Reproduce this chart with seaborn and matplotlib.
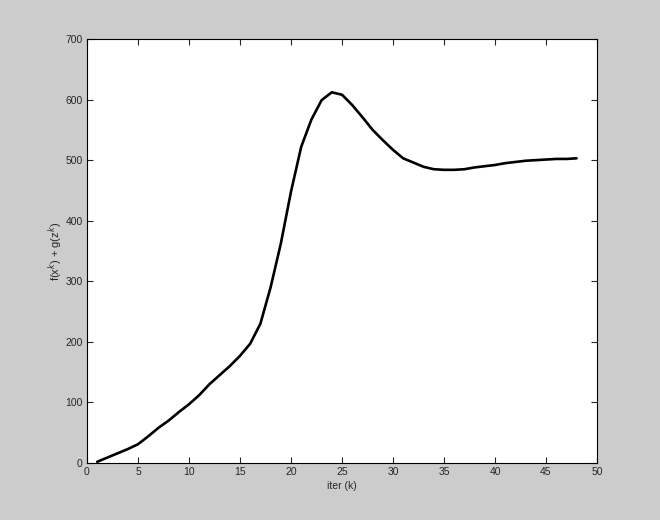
import numpy as np
import pandas as pd
import matplotlib
matplotlib.use("Agg")
import matplotlib.pyplot as plt
import seaborn as sns

# valores
iteracoes = list(range(1, 49))
valores = [2, 9, 16, 23, 31, 44, 58, 70, 84, 97,
           112, 130, 145, 160, 177, 197, 230, 290, 362, 448,
           522, 567, 599, 612, 608, 591, 571, 550, 533, 517,
           503, 496, 489, 485, 484, 484, 485, 488, 490, 492,
           495, 497, 499, 500, 501, 502, 502, 503]

df = pd.DataFrame({"k": iteracoes, "f": valores})

sns.set_style("ticks")
plt.rcParams["font.family"] = ["Liberation Sans", "DejaVu Sans"]

fig = plt.figure(figsize=(6.6, 5.2), dpi=100, facecolor="#cccccc")
ax = fig.add_axes([87 / 660, 57 / 520, 510 / 660, 424 / 520])
ax.set_facecolor("white")

sns.lineplot(data=df, x="k", y="f", ax=ax, color="black", linewidth=1.9)

ax.set_xlim(0, 50)
ax.set_ylim(0, 700)
ax.set_xticks(range(0, 51, 5))
ax.set_yticks(range(0, 701, 100))
ax.tick_params(direction="in", length=4, width=0.8, labelsize=7.5,
               top=True, right=True, pad=3)
for s in ax.spines.values():
    s.set_visible(True)
    s.set_linewidth(0.8)
    s.set_color("black")

ax.set_xlabel("iter (k)", fontsize=7.5, labelpad=3)
ax.set_ylabel(r"f(x$^k$) + g(z$^k$)", fontsize=8, labelpad=0)

fig.savefig("out.png", dpi=100, facecolor=fig.get_facecolor())
